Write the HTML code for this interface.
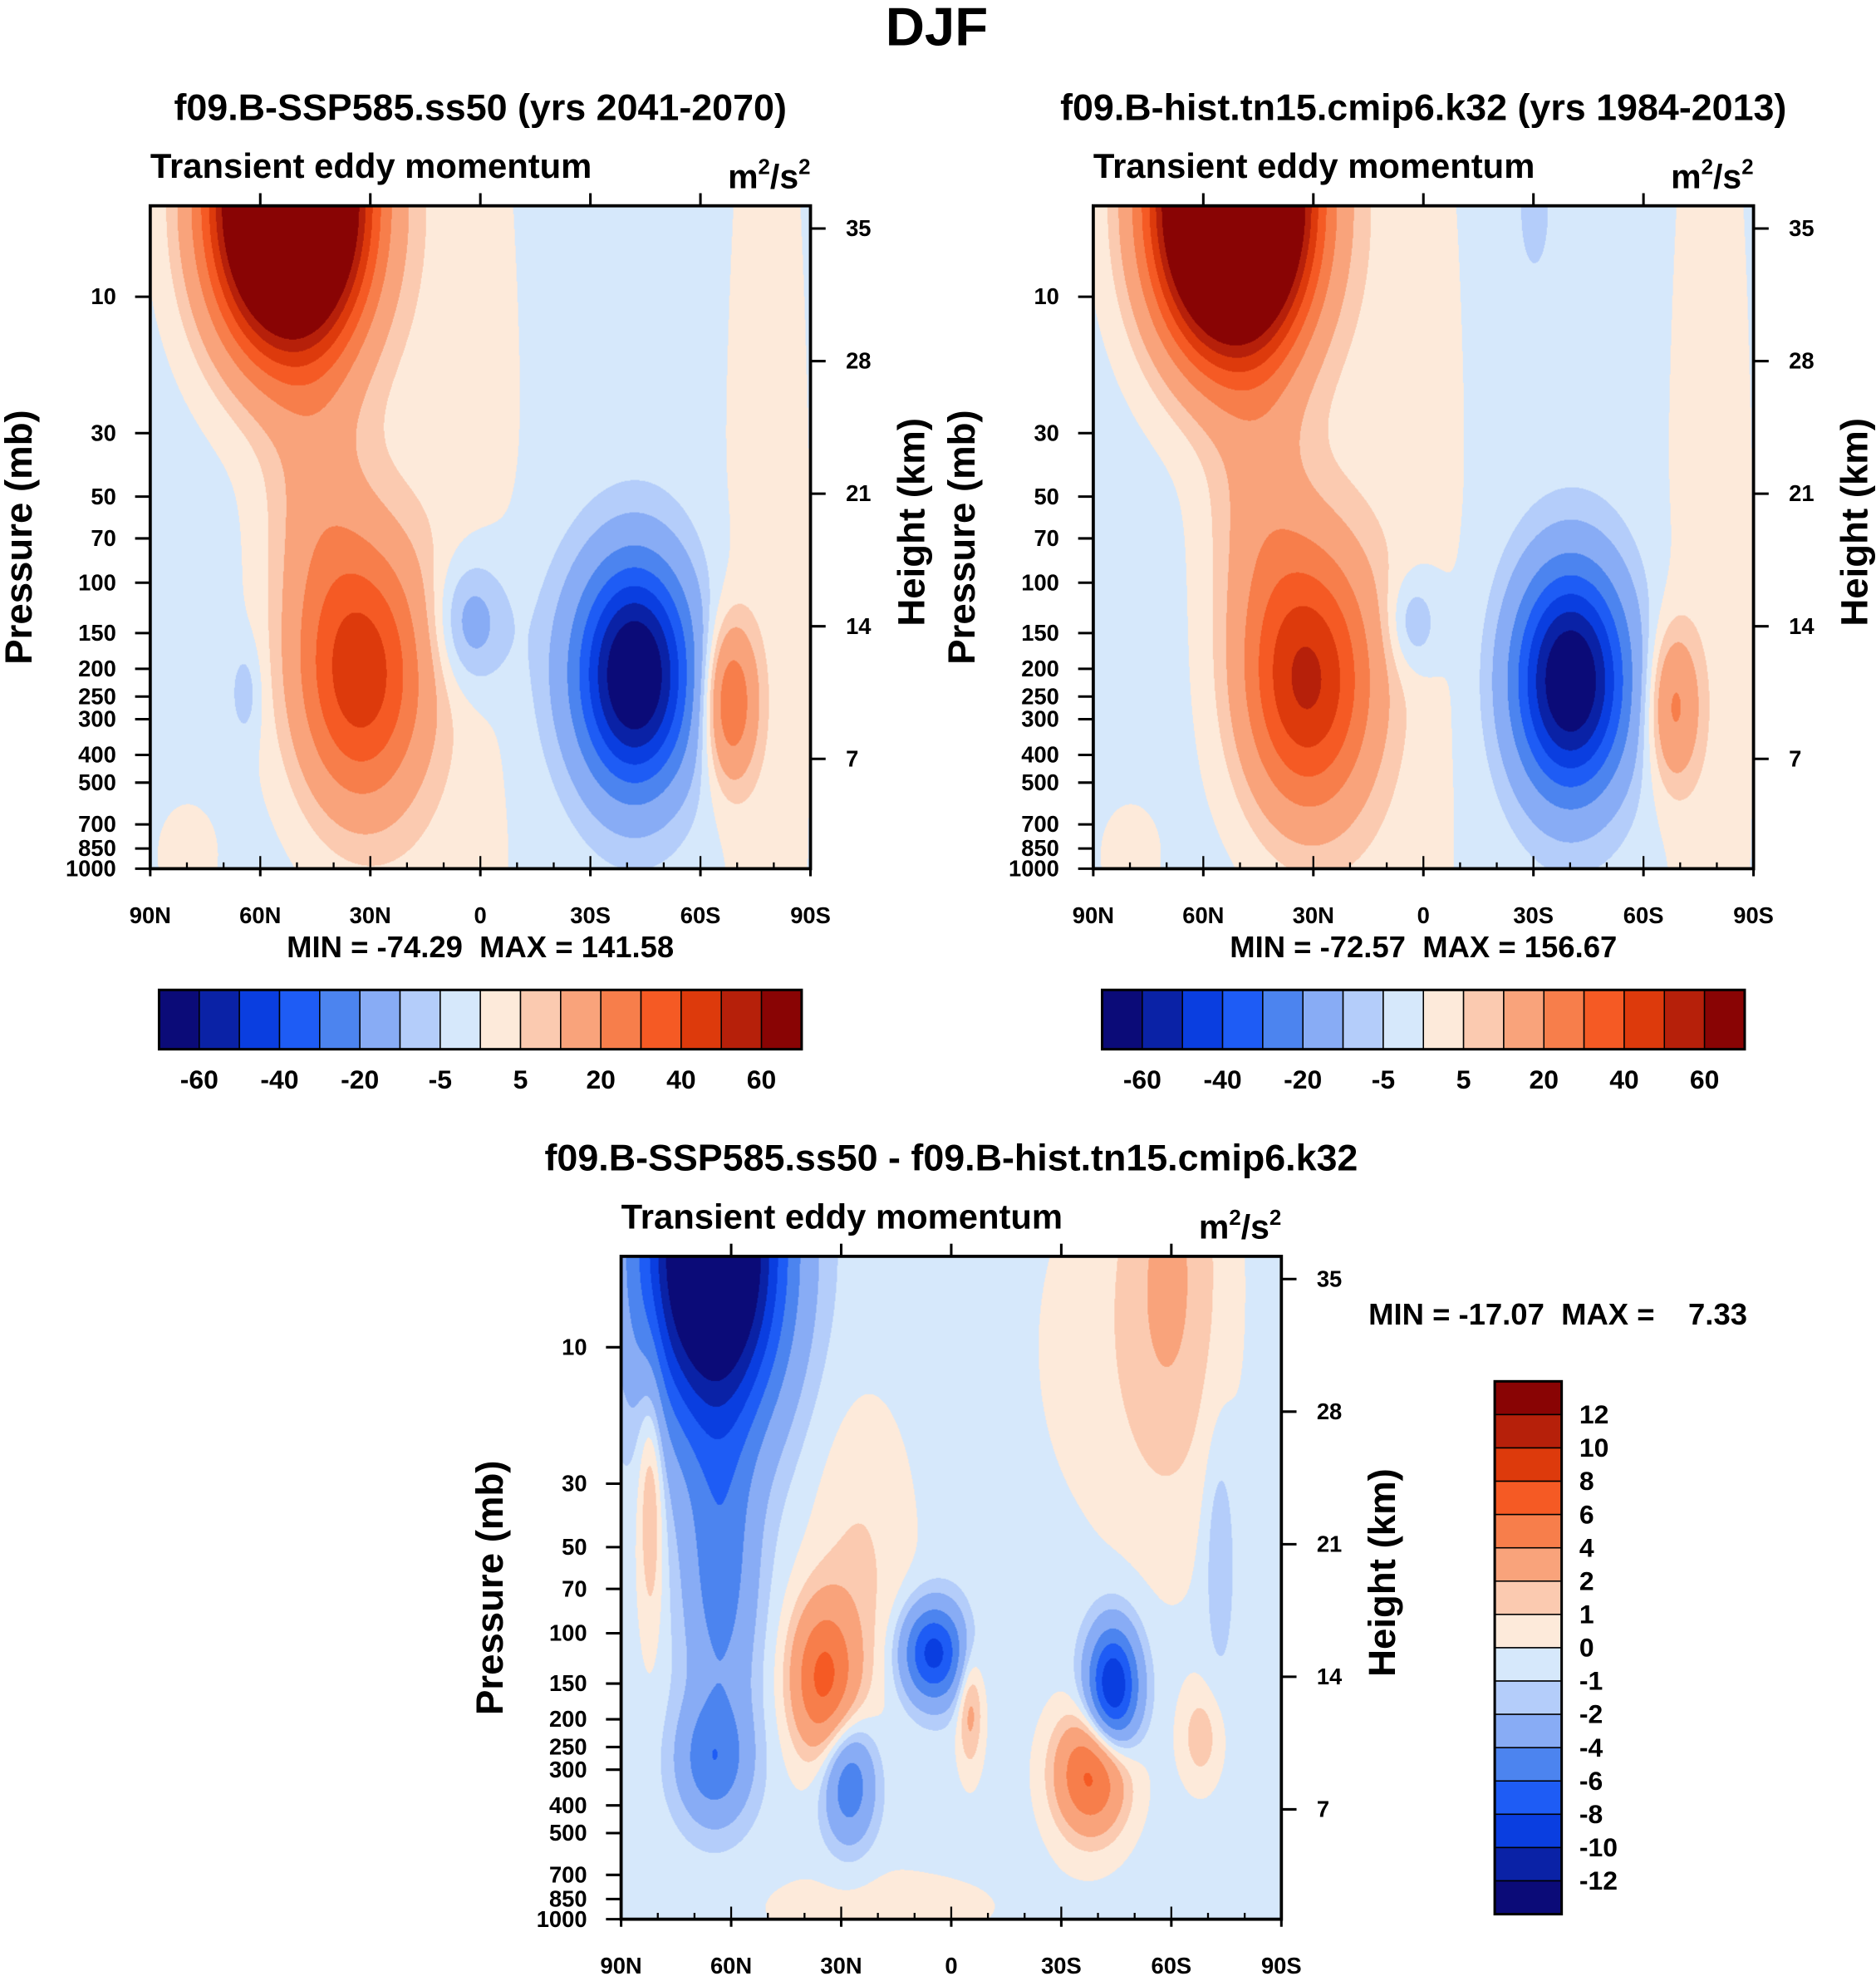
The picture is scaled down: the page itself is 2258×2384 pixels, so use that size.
<!DOCTYPE html>
<html><head><meta charset="utf-8">
<style>
html,body{margin:0;padding:0;background:#fff;}
#root{position:absolute;left:0;top:0;width:1486px;height:1569px;transform:scale(1.5195);transform-origin:0 0;}
canvas{position:absolute;}
svg{position:absolute;left:0;top:0;}
text{font-family:"Liberation Sans",Arial,sans-serif;font-weight:bold;fill:#000;white-space:pre;}
</style></head>
<body>
<div id="root">
<canvas id="c1"></canvas>
<canvas id="c2"></canvas>
<canvas id="c3"></canvas>
<svg id="ov" width="1486" height="1569"></svg>
</div>
<script>
// ---------- data ----------
const pressureTicks=[10,30,50,70,100,150,200,250,300,400,500,700,850,1000];
const heightTicks=[35,28,21,14,7];
const latTicks=[90,60,30,0,-30,-60,-90];
const latLabels=["90N","60N","30N","0","30S","60S","90S"];
const levelsFull=[-60,-50,-40,-30,-20,-10,-5,0,5,10,20,30,40,50,60];
const levelsFullLabels=["-60","-40","-20","-5","5","20","40","60"];
const levelsDiff=[-12,-10,-8,-6,-4,-2,-1,0,1,2,4,6,8,10,12];
const colors=["#0b0b78","#0a22a6","#0a3ee0","#1e5cf5","#4c84ef","#88acf5","#b4cdfa","#d6e8fb","#fdeada","#fbcab0","#f9a37b","#f77e4b","#f55a24","#dd3a0c","#b6200a","#890404"];
// panel 1 blobs (lat deg, pressure mb, amplitude, lat width, log-p width)
const p1Lat=[52,45,33,-42,3,-68,10,-78,80,64,-20];
const p1P=[4.8,50,210,210,138,260,60,150,900,240,180];
const p1Amp=[160,12,47,-74,-15,30,4,4,3,-7,-3];
const p1LatW=[13.5,10,12,10.5,7,5,18,10,9,3,10];
const p1ZW=[0.33,0.35,0.32,0.27,0.16,0.19,2,2,0.2,0.12,0.3];
const p1Base=-2;
// panel 2 blobs
const p2Lat=[52,45,32,-40,3,-68,10,-78,80,-30];
const p2P=[4.8,50,220,220,138,270,60,150,900,5];
const p2Amp=[175,12,52,-72,-11,22,4,4,3,-5];
const p2LatW=[13.5,10,12,10.5,5,5,18,10,9,4];
const p2ZW=[0.33,0.35,0.32,0.27,0.12,0.19,2,2,0.2,0.2];
const p2Base=-2;
// difference panel blobs
const p3Lat=[65,63,65,28,82,35,25,5,-5,-44,-38,-68,-73,-60,-45,20];
const p3P=[4.8,60,280,330,30,145,60,117,180,155,310,230,51,5,10,900];
const p3Amp=[-19,-4.5,-4.5,-5.5,3,6.5,1.5,-8.5,3,-10,7,2,-1.6,2.2,0.8,0.7];
const p3LatW=[13,7,7,5,2.5,6.4,10,6,2.5,5,7,4,3,10,18,30];
const p3ZW=[0.4,0.4,0.15,0.15,0.35,0.19,0.4,0.12,0.15,0.15,0.15,0.12,0.3,0.6,0.5,0.12];
const p3Base=-0.4;

const S=1.5195;
const svg=document.getElementById('ov');
const NS="http://www.w3.org/2000/svg";
function mk(tag,attrs,txt){const e=document.createElementNS(NS,tag);for(const k in attrs)e.setAttribute(k,attrs[k]);if(txt!==undefined)e.textContent=txt;svg.appendChild(e);return e;}

function drawPanel(cid,name,x0,y0,lat,p,amp,lw,zw,base,levels,title,mm){
  const W=523,H=525;
  const yOf=pp=>y0+72+(Math.log10(pp)-1)*226.5;
  const xOf=l=>x0+(90-l)/180*W;
  const zTop=1-72/226.5;
  const cv=document.getElementById(cid);
  cv.style.left=x0+'px';cv.style.top=y0+'px';cv.style.width=W+'px';cv.style.height=H+'px';
  const cw=Math.round(W*S),ch=Math.round(H*S);cv.width=cw;cv.height=ch;
  const ctx=cv.getContext('2d');const img=ctx.createImageData(cw,ch);
  const rgb=colors.map(c=>[parseInt(c.substr(1,2),16),parseInt(c.substr(3,2),16),parseInt(c.substr(5,2),16)]);
  const z0=p.map(v=>Math.log10(v));
  for(let j=0;j<ch;j++){
    const z=zTop+(j/ch*H)/226.5;
    for(let i=0;i<cw;i++){
      const la=90-i/cw*180;
      let f=base;
      for(let k=0;k<lat.length;k++){const a=(la-lat[k])/lw[k],b=(z-z0[k])/zw[k];f+=amp[k]*Math.exp(-0.5*(a*a+b*b));}
      let idx=0;while(idx<levels.length&&f>=levels[idx])idx++;
      const c=rgb[idx],o=(j*cw+i)*4;img.data[o]=c[0];img.data[o+1]=c[1];img.data[o+2]=c[2];img.data[o+3]=255;
    }
  }
  ctx.putImageData(img,0,0);
  mk('rect',{x:x0,y:y0,width:W,height:H,fill:'none',stroke:'#000','stroke-width':2.5,});
  mk('text',{x:x0+W/2,y:y0-68,'text-anchor':'middle','font-size':29.5,},title);
  mk('text',{x:x0,y:y0-22,'font-size':27.5,},'Transient eddy momentum');
  const u=mk('text',{x:x0+W,y:y0-14,'text-anchor':'end','font-size':27,});
  u.innerHTML='m<tspan dy="-11" font-size="17">2</tspan><tspan dy="11">/s</tspan><tspan dy="-11" font-size="17">2</tspan>';
  pressureTicks.forEach(pp=>{const y=yOf(pp);
    mk('line',{x1:x0-12,x2:x0,y1:y,y2:y,stroke:'#000','stroke-width':2});
    mk('text',{x:x0-27,y:y+6,'text-anchor':'end','font-size':18,},pp);});
  heightTicks.forEach(h=>{const y=y0+18+(35-h)/7*105;
    mk('line',{x1:x0+W,x2:x0+W+12,y1:y,y2:y,stroke:'#000','stroke-width':2});
    mk('text',{x:x0+W+28,y:y+6,'font-size':18,},h);});
  for(let l=-80;l<=80;l+=10){const x=xOf(l);const maj=l%30===0;
    mk('line',{x1:x,x2:x,y1:y0+H,y2:y0+H-(maj?10:5),stroke:'#000','stroke-width':1.5});
    mk('line',{x1:x,x2:x,y1:y0,y2:y0-(maj?10:0),stroke:'#000','stroke-width':2});}
  latTicks.forEach((l,i)=>{const x=xOf(l);
    mk('line',{x1:x,x2:x,y1:y0+H,y2:y0+H+6,stroke:'#000','stroke-width':2});
    mk('text',{x:x,y:y0+H+43,'text-anchor':'middle','font-size':18,},latLabels[i]);});
  mk('text',{x:x0-94,y:y0+H/2,'text-anchor':'middle','font-size':30,transform:`rotate(-90 ${x0-94} ${y0+H/2})`,},'Pressure (mb)');
  mk('text',{x:x0+W+90,y:y0+H/2-12,'text-anchor':'middle','font-size':30,transform:`rotate(-90 ${x0+W+90} ${y0+H/2-12})`,},'Height (km)');
  if(mm)mk('text',{x:x0+W/2,y:y0+H+70,'text-anchor':'middle','font-size':24,},mm);
}
function hbar(name,x0,y0){const W=509,H=47,n=colors.length,bw=W/n;
  colors.forEach((c,i)=>mk('rect',{x:x0+i*bw,y:y0,width:bw,height:H,fill:c,stroke:'#000','stroke-width':1,}));
  mk('rect',{x:x0,y:y0,width:W,height:H,fill:'none',stroke:'#000','stroke-width':2});
  levelsFullLabels.forEach((lab,i)=>mk('text',{x:x0+(2*i+1)*bw,y:y0+78,'text-anchor':'middle','font-size':21,},lab));
}
mk('text',{x:742,y:36,'text-anchor':'middle','font-size':43,},'DJF');
drawPanel('c1','ssp585',119,163,p1Lat,p1P,p1Amp,p1LatW,p1ZW,p1Base,levelsFull,'f09.B-SSP585.ss50 (yrs 2041-2070)','MIN = -74.29  MAX = 141.58');
drawPanel('c2','hist',866,163,p2Lat,p2P,p2Amp,p2LatW,p2ZW,p2Base,levelsFull,'f09.B-hist.tn15.cmip6.k32 (yrs 1984-2013)','MIN = -72.57  MAX = 156.67');
drawPanel('c3','diff',492,995,p3Lat,p3P,p3Amp,p3LatW,p3ZW,p3Base,levelsDiff,'f09.B-SSP585.ss50 - f09.B-hist.tn15.cmip6.k32',null);
hbar('colorbar-ssp585',126,784);
hbar('colorbar-hist',873,784);
mk('text',{x:1084,y:1049,'font-size':24,},'MIN = -17.07  MAX =    7.33');
(function(){const x0=1184,y0=1094,W=53,H=422,n=colors.length,bh=H/n;
  for(let i=0;i<n;i++)mk('rect',{x:x0,y:y0+i*bh,width:W,height:bh,fill:colors[n-1-i],stroke:'#000','stroke-width':1,});
  mk('rect',{x:x0,y:y0,width:W,height:H,fill:'none',stroke:'#000','stroke-width':2});
  const rev=levelsDiff.slice().reverse();
  rev.forEach((v,i)=>mk('text',{x:x0+W+14,y:y0+(i+1)*bh+7,'font-size':21,},v));
})();
</script>
</body></html>
